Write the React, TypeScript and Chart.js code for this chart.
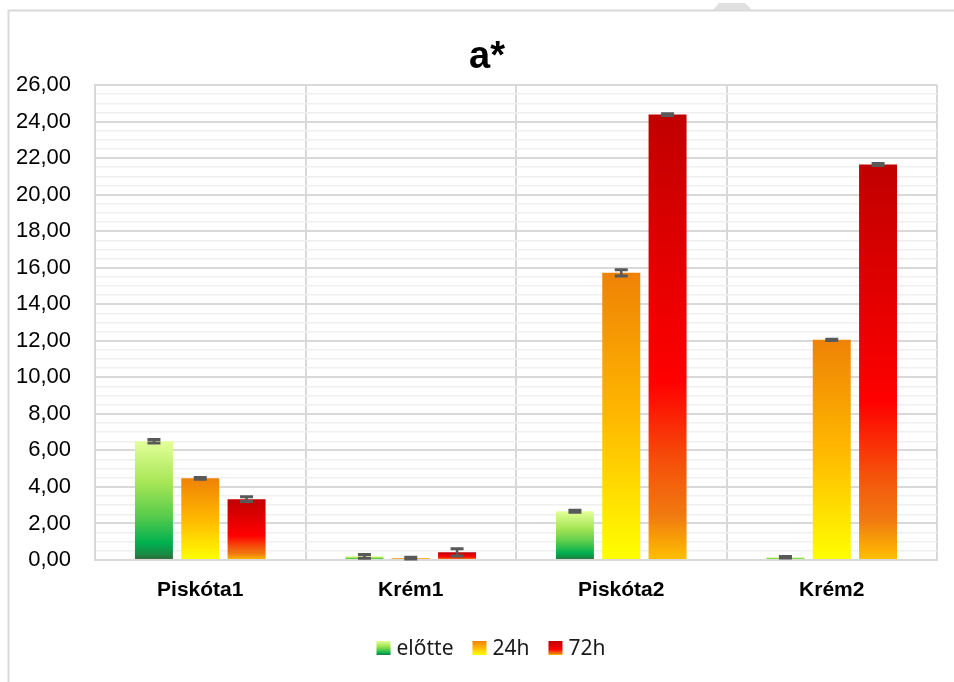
import React, { useEffect, useRef } from 'react';
import { Chart, registerables } from 'chart.js';

Chart.register(...registerables);

const categories = ['Piskóta1', 'Krém1', 'Piskóta2', 'Krém2'];
const seriesNames = ['előtte', '24h', '72h'];
const elotte = [6.5, 0.2, 2.67, 0.15];
const h24 = [4.47, 0.1, 15.72, 12.05];
const h72 = [3.33, 0.42, 24.38, 21.65];
const elotteErr = [0.1, 0.1, 0.05, 0.04];
const h24Err = [0.05, 0.05, 0.17, 0.03];
const h72Err = [0.13, 0.2, 0.05, 0.05];
const yMax = 26;
const yStep = 0.5;
const yLabelStep = 2;

type Stops = [number, string][];
const greenStops: Stops = [
  [0, '#e3ff9a'],
  [0.35, '#a6e655'],
  [0.62, '#5ccc4c'],
  [0.86, '#00b050'],
  [0.95, '#1a8a44'],
  [1, '#37663a'],
];
const orangeStops: Stops = [
  [0, '#ef8205'],
  [0.5, '#ffb800'],
  [1, '#ffff00'],
];
const redStops: Stops = [
  [0, '#c00000'],
  [0.6, '#ff0000'],
  [0.78, '#f5500a'],
  [0.9, '#f07a10'],
  [1, '#ffc000'],
];

function barGradient(stops: Stops) {
  return (c: any) => {
    const chart = c.chart;
    if (!chart.chartArea || c.type !== 'data' || !chart.scales.y) return stops[0][1];
    const y = chart.scales.y;
    const top = y.getPixelForValue(c.raw as number);
    const base = y.getPixelForValue(0);
    if (!isFinite(top) || !isFinite(base) || base - top < 0.5) return stops[0][1];
    const g = chart.ctx.createLinearGradient(0, top, 0, base);
    stops.forEach(([o, col]) => g.addColorStop(o, col));
    return g;
  };
}

const fmt = (v: number) => v.toFixed(2).replace('.', ',');

export default function App() {
  const ref = useRef<HTMLCanvasElement>(null);
  useEffect(() => {
    const canvas = ref.current!;
    const errs = [elotteErr, h24Err, h72Err];
    const stopsList = [greenStops, orangeStops, redStops];

    const framePlugin = {
      id: 'frame',
      beforeDraw(chart: any) {
        const ctx = chart.ctx;
        ctx.save();
        ctx.fillStyle = '#ffffff';
        ctx.fillRect(0, 0, chart.width, chart.height);
        ctx.fillStyle = '#e0e0e0';
        ctx.beginPath();
        ctx.moveTo(713, 10);
        ctx.lineTo(719, 3);
        ctx.lineTo(745, 3);
        ctx.lineTo(752, 10);
        ctx.closePath();
        ctx.fill();
        ctx.strokeStyle = '#d9d9d9';
        ctx.lineWidth = 2;
        ctx.strokeRect(8.5, 10.5, 1200, 1000);
        ctx.restore();
      },
    };

    const errorBarPlugin = {
      id: 'errbars',
      afterDatasetsDraw(chart: any) {
        const ctx = chart.ctx;
        const y = chart.scales.y;
        ctx.save();
        ctx.strokeStyle = '#595959';
        chart.data.datasets.forEach((ds: any, di: number) => {
          const meta = chart.getDatasetMeta(di);
          meta.data.forEach((el: any, i: number) => {
            const v = ds.data[i] as number;
            const e = errs[di][i];
            const yt = y.getPixelForValue(v + e);
            const yb = y.getPixelForValue(Math.max(0, v - e));
            const x = el.x;
            ctx.lineWidth = 2.5;
            ctx.beginPath();
            ctx.moveTo(x, yt);
            ctx.lineTo(x, yb);
            ctx.stroke();
            ctx.lineWidth = 3;
            ctx.beginPath();
            ctx.moveTo(x - 6.5, yt);
            ctx.lineTo(x + 6.5, yt);
            ctx.moveTo(x - 6.5, yb);
            ctx.lineTo(x + 6.5, yb);
            ctx.stroke();
          });
        });
        ctx.restore();
      },
    };

    const titleLegendPlugin = {
      id: 'titleLegend',
      afterDraw(chart: any) {
        const ctx = chart.ctx;
        ctx.save();
        ctx.fillStyle = '#000000';
        ctx.font = 'bold 38px "Liberation Sans"';
        ctx.textAlign = 'center';
        ctx.textBaseline = 'middle';
        ctx.fillText('a*', 487, 58);

        ctx.font = '21px "Noto Sans"';
        ctx.textAlign = 'left';
        const box = 14;
        const gapBox = 6;
        const gapItem = 19;
        const widths = seriesNames.map((n) => ctx.measureText(n).width);
        const total = widths.reduce((a: number, w: number) => a + box + gapBox + w, 0) + gapItem * (seriesNames.length - 1);
        let x = 491 - total / 2;
        const by = 641;
        seriesNames.forEach((n, i) => {
          const g = ctx.createLinearGradient(0, by, 0, by + box);
          stopsList[i].forEach(([o, col]) => g.addColorStop(o, col));
          ctx.fillStyle = g;
          ctx.fillRect(x, by, box, box);
          x += box + gapBox;
          ctx.fillStyle = '#1a1a1a';
          ctx.fillText(n, x, by + box / 2 + 1);
          x += widths[i] + gapItem;
        });
        ctx.restore();
      },
    };

    const chart = new Chart(canvas, {
      type: 'bar',
      data: {
        labels: categories,
        datasets: [
          { label: seriesNames[0], data: elotte, backgroundColor: barGradient(greenStops) as any },
          { label: seriesNames[1], data: h24, backgroundColor: barGradient(orangeStops) as any },
          { label: seriesNames[2], data: h72, backgroundColor: barGradient(redStops) as any },
        ],
      },
      options: {
        responsive: false,
        animation: false,
        devicePixelRatio: 1,
        datasets: { bar: { categoryPercentage: 0.66, barPercentage: 0.82 } } as any,
        layout: { padding: { top: 85, left: 0, right: 17, bottom: 72 } },
        plugins: {
          legend: { display: false },
          title: { display: false },
          tooltip: { enabled: false },
        },
        scales: {
          x: {
            offset: true,
            grid: { offset: true, color: '#d9d9d9', lineWidth: 2, drawTicks: false },
            border: { color: '#d9d9d9', width: 2 },
            ticks: {
              padding: 18,
              color: '#000000',
              font: { family: 'Liberation Sans', size: 21, weight: 'bold' },
            },
            afterFit: (s: any) => {
              s.height = 50;
            },
          },
          y: {
            min: 0,
            max: yMax,
            ticks: {
              stepSize: yStep,
              autoSkip: false,
              padding: 24,
              color: '#000000',
              font: { family: 'Liberation Sans', size: 22 },
              callback: (v: any) => {
                const n = Number(v);
                return Math.abs(n % yLabelStep) < 1e-9 ? fmt(n) : '';
              },
            },
            grid: {
              drawTicks: false,
              color: (c: any) =>
                c.tick && Math.abs(c.tick.value % yLabelStep) < 1e-9 ? '#d9d9d9' : '#efefef',
              lineWidth: (c: any) =>
                c.tick && Math.abs(c.tick.value % yLabelStep) < 1e-9 ? 2 : 1.5,
            },
            border: { display: true, color: '#d9d9d9', width: 2 },
            afterFit: (s: any) => {
              s.width = 95;
            },
          },
        },
      },
      plugins: [framePlugin, errorBarPlugin, titleLegendPlugin],
    });
    return () => chart.destroy();
  }, []);

  return (
    <div style={{ position: 'fixed', left: 0, top: 0, width: 954, height: 682, background: '#ffffff' }}>
      <canvas ref={ref} width={954} height={682} style={{ display: 'block', width: 954, height: 682 }} />
    </div>
  );
}
